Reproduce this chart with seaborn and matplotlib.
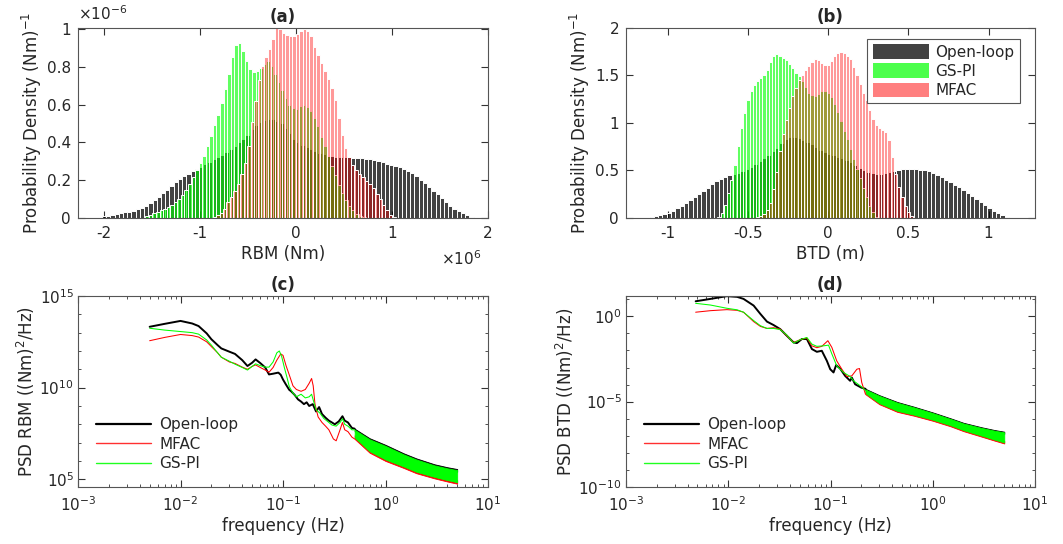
import numpy as np
import pandas as pd
import matplotlib
matplotlib.use("Agg")
import matplotlib.pyplot as plt
import seaborn as sns
from matplotlib.patches import Patch
from matplotlib.lines import Line2D
from matplotlib.ticker import FixedLocator, LogLocator, NullFormatter, FuncFormatter

# ------------------------------------------------------------------ data
# (a) RBM histograms : x in 1e6 Nm, density in 1e-6 (Nm)^-1
rbm_ol_start, rbm_ol_width = -2.022, 0.044
rbm_ol = [0.010, 0.013, 0.017, 0.021, 0.025, 0.030, 0.034, 0.039, 0.046, 0.054,
          0.066, 0.080, 0.097, 0.113, 0.131, 0.150, 0.170, 0.190, 0.207, 0.222,
          0.235, 0.247, 0.258, 0.270, 0.284, 0.298, 0.310, 0.320, 0.334, 0.350,
          0.366, 0.382, 0.400, 0.418, 0.440, 0.468, 0.490, 0.508, 0.520, 0.526,
          0.522, 0.512, 0.500, 0.476, 0.450, 0.420, 0.400, 0.388, 0.378, 0.366,
          0.356, 0.346, 0.336, 0.330, 0.326, 0.323, 0.321, 0.320, 0.320, 0.319,
          0.318, 0.316, 0.314, 0.311, 0.306, 0.300, 0.294, 0.288, 0.281, 0.275,
          0.268, 0.260, 0.250, 0.236, 0.220, 0.203, 0.185, 0.165, 0.145, 0.125,
          0.104, 0.084, 0.066, 0.050, 0.036, 0.024, 0.014, 0.007]
rbm_gs_start, rbm_gs_width = -1.5685, 0.037
rbm_gs = [0.008, 0.015, 0.024, 0.033, 0.042, 0.050, 0.058, 0.068, 0.083, 0.101,
          0.124, 0.150, 0.180, 0.216, 0.252, 0.290, 0.330, 0.380, 0.435, 0.490,
          0.545, 0.610, 0.680, 0.760, 0.850, 0.915, 0.925, 0.885, 0.830, 0.790,
          0.770, 0.780, 0.795, 0.815, 0.830, 0.805, 0.760, 0.720, 0.675, 0.635,
          0.600, 0.580, 0.575, 0.590, 0.595, 0.585, 0.565, 0.530, 0.485, 0.430,
          0.380, 0.330, 0.275, 0.225, 0.175, 0.130, 0.095, 0.065, 0.040, 0.022,
          0.010, 0.003]
rbm_mf_start, rbm_mf_width = -0.868, 0.036
rbm_mf = [0.004, 0.014, 0.028, 0.046, 0.085, 0.112, 0.145, 0.180, 0.230, 0.290,
          0.380, 0.505, 0.620, 0.730, 0.805, 0.850, 0.895, 0.945, 1.005, 1.000,
          0.980, 0.968, 0.960, 0.962, 0.975, 0.990, 1.000, 0.990, 0.960, 0.905,
          0.860, 0.820, 0.780, 0.735, 0.690, 0.625, 0.530, 0.440, 0.370, 0.320,
          0.280, 0.255, 0.235, 0.215, 0.198, 0.182, 0.158, 0.128, 0.098, 0.068,
          0.040, 0.018, 0.006]

# (b) BTD histograms : x in m
btd_ol_start, btd_ol_width = -1.1135, 0.027
btd_ol = [0.008, 0.018, 0.028, 0.040, 0.055, 0.075, 0.100, 0.128, 0.158, 0.190,
          0.220, 0.250, 0.285, 0.320, 0.355, 0.385, 0.410, 0.430, 0.448, 0.462,
          0.478, 0.495, 0.515, 0.540, 0.565, 0.600, 0.635, 0.665, 0.700, 0.740,
          0.790, 0.830, 0.850, 0.855, 0.845, 0.825, 0.800, 0.775, 0.745, 0.715,
          0.690, 0.675, 0.660, 0.645, 0.630, 0.610, 0.585, 0.560, 0.530, 0.500,
          0.480, 0.470, 0.465, 0.468, 0.475, 0.485, 0.495, 0.505, 0.512, 0.515,
          0.515, 0.512, 0.508, 0.500, 0.490, 0.475, 0.455, 0.432, 0.405, 0.378,
          0.350, 0.322, 0.292, 0.262, 0.232, 0.200, 0.168, 0.135, 0.105, 0.078,
          0.052, 0.030, 0.012]
btd_gs_start, btd_gs_width = -0.69, 0.02
btd_gs = [0.010, 0.050, 0.140, 0.260, 0.400, 0.560, 0.760, 0.950, 1.100, 1.240,
          1.340, 1.400, 1.440, 1.475, 1.510, 1.560, 1.640, 1.710, 1.725, 1.705,
          1.685, 1.660, 1.620, 1.575, 1.530, 1.490, 1.440, 1.380, 1.320, 1.290,
          1.280, 1.300, 1.335, 1.340, 1.320, 1.270, 1.200, 1.120, 1.020, 0.920,
          0.830, 0.730, 0.620, 0.520, 0.420, 0.320, 0.220, 0.130, 0.060, 0.015]
btd_mf_start, btd_mf_width = -0.45, 0.02
btd_mf = [0.010, 0.020, 0.040, 0.080, 0.160, 0.300, 0.480, 0.700, 0.880, 1.030,
          1.160, 1.280, 1.370, 1.450, 1.510, 1.560, 1.600, 1.640, 1.670, 1.660,
          1.630, 1.605, 1.610, 1.650, 1.700, 1.735, 1.745, 1.735, 1.710, 1.670,
          1.590, 1.510, 1.410, 1.320, 1.240, 1.140, 1.040, 0.980, 0.950, 0.930,
          0.900, 0.820, 0.640, 0.460, 0.330, 0.220, 0.130, 0.060, 0.020]

# (c) PSD RBM : frequency (Hz), log10 PSD
c_f_ol = [0.005, 0.007, 0.010, 0.013, 0.015, 0.018, 0.020, 0.023, 0.025, 0.030,
          0.034, 0.040, 0.045, 0.050, 0.054, 0.060, 0.067, 0.073, 0.080, 0.090,
          0.095, 0.100, 0.107, 0.115, 0.120, 0.130, 0.140, 0.150, 0.160, 0.170,
          0.180, 0.195, 0.210, 0.225, 0.240, 0.260, 0.280, 0.300, 0.320, 0.350,
          0.380, 0.400, 0.430, 0.470, 0.500]
c_ol = [13.32, 13.48, 13.64, 13.50, 13.36, 12.96, 12.64, 12.32, 12.14, 11.96,
        11.84, 11.50, 11.18, 11.36, 11.54, 11.34, 11.10, 10.72, 10.76, 10.82,
        10.70, 10.44, 10.16, 9.88, 9.80, 9.60, 9.36, 9.24, 9.10, 9.20,
        9.00, 9.10, 8.70, 8.94, 8.56, 8.36, 8.20, 8.10, 8.00, 8.16,
        8.44, 8.20, 8.10, 7.80, 7.76]
c_f_gs = [0.005, 0.007, 0.010, 0.013, 0.015, 0.018, 0.020, 0.023, 0.025, 0.030,
          0.034, 0.040, 0.045, 0.050, 0.054, 0.060, 0.067, 0.073, 0.080, 0.087,
          0.092, 0.097, 0.103, 0.110, 0.115, 0.125, 0.135, 0.150, 0.165, 0.180,
          0.190, 0.200, 0.210, 0.230, 0.250, 0.280, 0.300, 0.330, 0.360, 0.380,
          0.400, 0.430, 0.470, 0.500]
c_gs = [13.24, 13.14, 13.06, 13.00, 12.92, 12.60, 12.32, 11.90, 11.66, 11.44,
        11.28, 11.10, 10.96, 11.16, 11.30, 11.20, 11.12, 11.12, 11.40, 11.90,
        12.00, 11.70, 11.10, 10.50, 10.06, 9.70, 9.50, 9.64, 9.44, 9.50,
        9.64, 9.20, 8.80, 8.60, 8.32, 8.10, 7.96, 7.90, 8.10, 8.30,
        8.00, 7.90, 7.70, 7.70]
c_f_mf = [0.005, 0.007, 0.010, 0.013, 0.015, 0.018, 0.020, 0.023, 0.025, 0.030,
          0.034, 0.040, 0.045, 0.050, 0.054, 0.060, 0.067, 0.073, 0.080, 0.087,
          0.095, 0.100, 0.107, 0.115, 0.125, 0.135, 0.150, 0.165, 0.180, 0.190,
          0.197, 0.205, 0.220, 0.240, 0.260, 0.280, 0.310, 0.330, 0.360, 0.380,
          0.400, 0.430, 0.470, 0.500]
c_mf = [12.56, 12.74, 12.90, 12.84, 12.76, 12.50, 12.24, 11.90, 11.66, 11.40,
        11.32, 11.12, 11.00, 11.16, 11.24, 11.10, 10.96, 10.84, 11.10, 11.50,
        11.84, 11.76, 11.20, 10.70, 10.10, 9.90, 9.80, 9.90, 10.24, 10.50,
        10.10, 9.10, 8.40, 8.10, 7.90, 7.70, 7.20, 7.10, 7.70, 8.10,
        7.70, 7.60, 7.30, 7.20]
# high-frequency envelopes (c)
c_band_f = [0.5, 0.7, 1.0, 1.5, 2.0, 3.0, 4.0, 5.0]
c_ol_hi = [7.76, 7.24, 6.88, 6.42, 6.14, 5.82, 5.66, 5.56]
c_ol_lo = [7.62, 7.08, 6.72, 6.27, 5.99, 5.67, 5.51, 5.41]
c_gs_hi = [7.70, 7.18, 6.82, 6.36, 6.08, 5.76, 5.60, 5.50]
c_gs_lo = [7.28, 6.53, 6.08, 5.70, 5.41, 5.13, 4.96, 4.84]
c_mf_hi = [7.40, 6.65, 6.20, 5.82, 5.53, 5.25, 5.08, 4.96]
c_mf_lo = [7.20, 6.45, 6.00, 5.62, 5.33, 5.05, 4.88, 4.76]

# (d) PSD BTD : frequency (Hz), log10 PSD
d_f_ol = [0.0048, 0.0067, 0.0097, 0.0122, 0.0141, 0.0177, 0.0206, 0.0239, 0.0277, 0.0322,
          0.0374, 0.0435, 0.0469, 0.0525, 0.0587, 0.0658, 0.0735, 0.0822, 0.0921, 0.0993,
          0.107, 0.1135, 0.124, 0.139, 0.1556, 0.1615, 0.174, 0.200, 0.220]
d_ol = [0.88, 1.02, 1.18, 1.14, 1.02, 0.63, 0.14, -0.31, -0.51, -0.75,
        -1.14, -1.53, -1.57, -1.33, -1.33, -1.92, -2.08, -2.02, -2.61, -3.10,
        -3.29, -2.86, -3.06, -3.49, -3.78, -3.59, -3.98, -4.18, -4.25]
d_f_gs = [0.0048, 0.0067, 0.0097, 0.0122, 0.0141, 0.0177, 0.0206, 0.0239, 0.0277, 0.0322,
          0.0374, 0.0435, 0.0506, 0.0587, 0.0658, 0.0735, 0.0855, 0.0956, 0.103, 0.115,
          0.134, 0.1556, 0.168, 0.200, 0.220]
d_gs = [0.76, 0.66, 0.47, 0.38, 0.24, -0.25, -0.55, -0.71, -0.71, -0.78,
        -1.10, -1.57, -1.37, -1.24, -1.63, -1.76, -1.73, -1.69, -2.20, -2.90,
        -3.29, -3.53, -3.78, -4.12, -4.35]
d_f_mf = [0.0048, 0.0067, 0.0097, 0.0122, 0.0141, 0.0177, 0.0206, 0.0239, 0.0277, 0.0322,
          0.0374, 0.0435, 0.0506, 0.0587, 0.0658, 0.0735, 0.0822, 0.0942, 0.103, 0.115,
          0.129, 0.1444, 0.1615, 0.181, 0.192, 0.202, 0.220]
d_mf = [0.24, 0.33, 0.39, 0.35, 0.24, -0.31, -0.59, -0.71, -0.67, -0.75,
        -1.14, -1.53, -1.37, -1.27, -1.73, -1.84, -1.76, -1.43, -1.82, -2.61,
        -3.10, -3.53, -3.49, -3.10, -3.06, -3.88, -4.57]
# high-frequency envelopes (d)
d_band_f = [0.22, 0.3, 0.45, 0.65, 1.0, 1.5, 2.0, 3.0, 4.0, 5.0]
d_ol_hi = [-4.25, -4.62, -5.02, -5.29, -5.63, -5.98, -6.24, -6.50, -6.66, -6.76]
d_ol_lo = [-4.37, -4.74, -5.14, -5.41, -5.75, -6.10, -6.36, -6.62, -6.78, -6.88]
d_gs_hi = [-4.29, -4.66, -5.06, -5.33, -5.67, -6.02, -6.28, -6.54, -6.70, -6.80]
d_gs_lo = [-4.51, -5.09, -5.54, -5.76, -6.06, -6.39, -6.67, -6.99, -7.22, -7.39]
d_mf_hi = [-4.42, -5.00, -5.45, -5.67, -5.97, -6.30, -6.58, -6.90, -7.13, -7.30]
d_mf_lo = [-4.57, -5.15, -5.60, -5.82, -6.12, -6.45, -6.73, -7.05, -7.28, -7.45]

labels_hist = ["Open-loop", "GS-PI", "MFAC"]
labels_psd = ["Open-loop", "MFAC", "GS-PI"]

# ------------------------------------------------------------------ style
sns.set_theme(style="white")
TXT = "#262626"
TICK = "#333333"
plt.rcParams.update({
    "font.family": ["DejaVu Sans"],
    "font.size": 11,
    "mathtext.fontset": "dejavusans",
    "axes.unicode_minus": False,
    "text.color": TXT,
    "axes.labelcolor": TXT,
    "xtick.color": TICK,
    "ytick.color": TICK,
    "xtick.labelcolor": TXT,
    "ytick.labelcolor": TXT,
    "axes.edgecolor": "#555555",
    "axes.linewidth": 0.8,
    "xtick.direction": "in",
    "ytick.direction": "in",
    "xtick.top": True,
    "xtick.bottom": True,
    "ytick.left": True,
    "ytick.right": True,
    "xtick.major.size": 5,
    "ytick.major.size": 5,
    "xtick.minor.size": 2.5,
    "ytick.minor.size": 2.5,
    "xtick.major.width": 0.8,
    "ytick.major.width": 0.8,
    "xtick.minor.width": 0.6,
    "ytick.minor.width": 0.6,
    "xtick.labelsize": 11,
    "ytick.labelsize": 11,
})

fig = plt.figure(figsize=(10.63, 5.44), dpi=100)
ax_a = fig.add_axes([0.0734, 0.5993, 0.3857, 0.3493])
ax_b = fig.add_axes([0.5889, 0.5993, 0.3848, 0.3493])
ax_c = fig.add_axes([0.0734, 0.1048, 0.3857, 0.3511])
ax_d = fig.add_axes([0.5889, 0.1048, 0.3848, 0.3511])

C_OL, A_OL = "#000000", 0.74
C_GS, A_GS = "#00ff00", 0.62
C_MF, A_MF = "#ff0000", 0.40


def hist(ax, start, width, heights, color, alpha):
    n = len(heights)
    centers = start + width * (np.arange(n) + 0.5)
    df = pd.DataFrame({"x": centers, "h": heights})
    sns.histplot(data=df, x="x", weights="h", binwidth=width,
                 binrange=(start, start + width * n), ax=ax, color=color,
                 alpha=alpha, edgecolor="white", linewidth=0.7, stat="count")


hist(ax_a, rbm_ol_start, rbm_ol_width, rbm_ol, C_OL, A_OL)
hist(ax_a, rbm_gs_start, rbm_gs_width, rbm_gs, C_GS, A_GS)
hist(ax_a, rbm_mf_start, rbm_mf_width, rbm_mf, C_MF, A_MF)
hist(ax_b, btd_ol_start, btd_ol_width, btd_ol, C_OL, A_OL)
hist(ax_b, btd_gs_start, btd_gs_width, btd_gs, C_GS, A_GS)
hist(ax_b, btd_mf_start, btd_mf_width, btd_mf, C_MF, A_MF)

fmt_g = FuncFormatter(lambda v, p: "%g" % round(v, 6))

ax_a.set_xlim(-2.27, 2.0)
ax_a.set_ylim(0, 1.005)
ax_a.xaxis.set_major_locator(FixedLocator([-2, -1, 0, 1, 2]))
ax_a.yaxis.set_major_locator(FixedLocator([0, 0.2, 0.4, 0.6, 0.8, 1.0]))
ax_a.xaxis.set_major_formatter(fmt_g)
ax_a.yaxis.set_major_formatter(fmt_g)
ax_a.set_xlabel("RBM (Nm)", labelpad=3)
ax_a.set_ylabel("Probability Density (Nm)$^{-1}$", labelpad=2)
ax_a.set_title("(a)", fontweight="bold", fontsize=12, pad=4)
ax_a.text(0.0, 1.075, r"$\times10^{-6}$", transform=ax_a.transAxes,
          ha="left", va="center", fontsize=11, color=TXT)
ax_a.text(0.985, -0.215, r"$\times10^{6}$", transform=ax_a.transAxes,
          ha="right", va="center", fontsize=11, color=TXT)

ax_b.set_xlim(-1.26, 1.29)
ax_b.set_ylim(0, 2.0)
ax_b.xaxis.set_major_locator(FixedLocator([-1, -0.5, 0, 0.5, 1]))
ax_b.yaxis.set_major_locator(FixedLocator([0, 0.5, 1, 1.5, 2]))
ax_b.xaxis.set_major_formatter(fmt_g)
ax_b.yaxis.set_major_formatter(fmt_g)
ax_b.set_xlabel("BTD (m)", labelpad=3)
ax_b.set_ylabel("Probability Density (Nm)$^{-1}$", labelpad=2)
ax_b.set_title("(b)", fontweight="bold", fontsize=12, pad=4)
leg_handles = [Patch(facecolor=C_OL, alpha=A_OL, edgecolor="none"),
               Patch(facecolor=C_GS, alpha=A_GS + 0.08, edgecolor="none"),
               Patch(facecolor=C_MF, alpha=A_MF + 0.1, edgecolor="none")]
leg = ax_b.legend(leg_handles, labels_hist, loc="upper right",
                  bbox_to_anchor=(0.963, 0.942), borderaxespad=0,
                  frameon=True, fancybox=False, framealpha=1,
                  handlelength=3.7, handleheight=1.05, handletextpad=0.4,
                  labelspacing=0.25, borderpad=0.35, fontsize=11)
leg.get_frame().set_edgecolor("#555555")
leg.get_frame().set_linewidth(0.8)

for ax in (ax_a, ax_b):
    ax.tick_params(which="major", direction="in", top=True, right=True,
                   bottom=True, left=True, length=5, width=0.8, color=TICK)
    ax.tick_params(axis="x", pad=6)
    ax.tick_params(axis="y", pad=5)
    for s in ax.spines.values():
        s.set_visible(True)


# ---------------- PSD panels
def psd_line(ax, f, logp, color, lw):
    df = pd.DataFrame({"f": f, "p": 10.0 ** np.array(logp)})
    sns.lineplot(data=df, x="f", y="p", ax=ax, color=color,
                 lw=lw, estimator=None, sort=False, legend=False)


def psd_band(ax, f, lo, hi, color):
    ax.fill_between(np.array(f), 10.0 ** np.array(lo), 10.0 ** np.array(hi),
                    color=color, lw=0.6, edgecolor=color)


for ax in (ax_c, ax_d):
    ax.set_xscale("log")
    ax.set_yscale("log")

psd_line(ax_c, c_f_ol, c_ol, "#000000", 1.4)
psd_band(ax_c, c_band_f, c_ol_lo, c_ol_hi, "#000000")
psd_line(ax_c, c_f_mf, c_mf, "#ff0000", 0.75)
psd_band(ax_c, c_band_f, c_mf_lo, c_mf_hi, "#ff0000")
psd_line(ax_c, c_f_gs, c_gs, "#00ff00", 0.75)
psd_band(ax_c, c_band_f, c_gs_lo, c_gs_hi, "#00ff00")

psd_line(ax_d, d_f_ol, d_ol, "#000000", 1.4)
psd_band(ax_d, d_band_f, d_ol_lo, d_ol_hi, "#000000")
psd_line(ax_d, d_f_mf, d_mf, "#ff0000", 0.75)
psd_band(ax_d, d_band_f, d_mf_lo, d_mf_hi, "#ff0000")
psd_line(ax_d, d_f_gs, d_gs, "#00ff00", 0.75)
psd_band(ax_d, d_band_f, d_gs_lo, d_gs_hi, "#00ff00")

ax_c.set_xlim(1e-3, 1e1)
ax_c.set_ylim(10 ** 4.58, 1e15)
ax_c.yaxis.set_major_locator(FixedLocator([1e5, 1e10, 1e15]))
ax_c.set_ylabel("PSD RBM ((Nm)$^2$/Hz)", labelpad=2)
ax_c.set_title("(c)", fontweight="bold", fontsize=12, pad=4)

ax_d.set_xlim(1e-3, 1e1)
ax_d.set_ylim(1e-10, 10 ** 1.19)
ax_d.yaxis.set_major_locator(FixedLocator([1e-10, 1e-5, 1e0]))
ax_d.set_ylabel("PSD BTD ((Nm)$^2$/Hz)", labelpad=2)
ax_d.set_title("(d)", fontweight="bold", fontsize=12, pad=4)

for ax in (ax_c, ax_d):
    ax.set_xlabel("frequency (Hz)", labelpad=2)
    ax.xaxis.set_major_locator(LogLocator(base=10, numticks=10))
    ax.xaxis.set_minor_locator(LogLocator(base=10, subs=np.arange(2, 10), numticks=50))
    ax.xaxis.set_minor_formatter(NullFormatter())
    ax.yaxis.set_minor_locator(LogLocator(base=10, subs=(1.0,), numticks=50))
    ax.yaxis.set_minor_formatter(NullFormatter())
    ax.tick_params(which="major", direction="in", top=True, right=True,
                   bottom=True, left=True, length=5, width=0.8, color=TICK)
    ax.tick_params(which="minor", direction="in", top=True, right=True,
                   bottom=True, left=True, length=2.5, width=0.6, color=TICK)
    ax.tick_params(axis="x", which="major", pad=6)
    ax.tick_params(axis="y", which="major", pad=3)
    for s in ax.spines.values():
        s.set_visible(True)
    hs = [Line2D([0, 1], [0, 0], color="#000000", lw=1.6),
          Line2D([0, 1], [0, 0], color="#ff3030", lw=1.0),
          Line2D([0, 1], [0, 0], color="#20ff20", lw=1.0)]
    ax.legend(handles=hs, labels=labels_psd, loc="lower left",
              bbox_to_anchor=(0.03, 0.05), frameon=False, handlelength=3.6,
              handletextpad=0.5, labelspacing=0.3, fontsize=11, borderaxespad=0)

fig.savefig("out.png", dpi=100)
